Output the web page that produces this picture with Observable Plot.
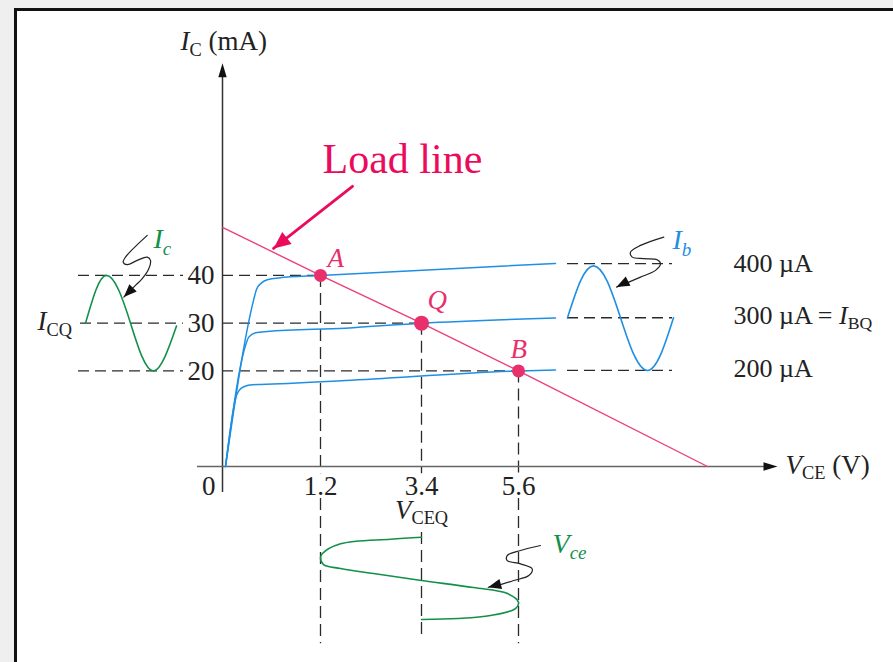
<!DOCTYPE html>
<html><head><meta charset="utf-8">
<script src="https://cdn.jsdelivr.net/npm/d3@7"></script>
<script src="https://cdn.jsdelivr.net/npm/@observablehq/plot@0.6"></script>
<style>
html,body{margin:0;padding:0;}
body{width:893px;height:662px;background:#efefef;position:relative;overflow:hidden;}
#panel{position:absolute;left:14px;top:8px;right:-10px;bottom:-10px;background:#fff;border-left:3px solid #111;border-top:3px solid #111;}
#chart{position:absolute;left:0;top:0;}
</style></head><body><div id="panel"></div><div id="chart"></div>
<script>
// ---- data (V in volts on x, I in mA on y) ----
const vceTicks = [0, 1.2, 3.4, 5.6];
const icTicks = [40, 30, 20];
const ibText = ["400 µA", "300 µA = <i>I</i><sub>BQ</sub>", "200 µA"];
const ibLevel = [42.45, 31.14, 20.1];
const ibLabelI = [40.69, 29.88, 18.7];
const loadV = [0, 1.2, 3.4, 5.6, 10];
const loadI = [50.05, 40, 30, 20, 0];
const opName = ["A", "Q", "B"];
const opV = [1.2, 3.4, 5.6];
const opI = [40, 30, 20];
const curve400 = [[0.037,0],[0.380,34.76],[0.416,37.07],[0.478,38.43],[0.563,39.16],[0.686,39.48],[1.2,40],[6.461,42.51]];
const curve300 = [[0.037,0],[0.282,25.34],[0.322,27.08],[0.404,28.0],[0.547,28.27],[1.745,28.96],[3.4,30],[6.461,31.1]];
const curve200 = [[0.037,0],[0.171,14.87],[0.208,16.02],[0.269,16.75],[0.367,17.11],[0.465,17.17],[1.745,18.01],[5.6,20],[6.461,20.2]];
const icWave = [[-1.680,30],[-1.551,37],[-1.423,40],[-1.275,37],[-1.128,30],[-0.987,23],[-0.846,20],[-0.705,23],[-0.564,29.4]];
const ibWave = [[6.741,31.14],[7.044,38.85],[7.346,42.0],[7.661,38.85],[7.975,31.14],[8.289,23.35],[8.603,20.1],[8.906,23.35],[9.209,31.14]];
const vceWave = [[3.4,-14.8],[2.725,-15.22],[1.636,-16.19],[1.237,-18.28],[1.2,-19.12],[1.265,-20.52],[1.636,-21.36],[2.355,-22.41],[3.4,-23.87],[4.579,-25.34],[5.351,-26.6],[5.6,-28.42],[5.532,-29.74],[4.965,-31.2],[4.217,-31.83],[3.4,-32.04]];
const icSquiggle = [[-0.923,48.38],[-1.190,43.83],[-1.218,42.79],[-1.169,42.24],[-1.046,43.14],[-0.923,43.83],[-0.883,43.14],[-0.904,41.4],[-0.985,39.31],[-1.067,37.91],[-1.210,35.46]];
const ibSquiggle = [[8.983,48.02],[8.440,46.28],[8.208,44.88],[8.247,43.83],[8.517,43.5],[8.829,43.29],[8.906,42.45],[8.790,41.05],[8.440,39.64],[8.168,38.6],[7.882,37.55]];
const vceSquiggle = [[6.112,-16.54],[5.647,-17.59],[5.344,-18.64],[5.344,-19.69],[5.647,-20.38],[5.919,-21.42],[5.840,-22.83],[5.493,-23.87],[5.192,-24.71],[4.913,-25.28]];
const loadArrow = [[1.897,58.64],[0.625,45.65]];
const hGuides = [
  {i:40,v1:-1.766,v2:-0.478},{i:40,v1:0,v2:1.2},
  {i:30,v1:-1.741,v2:-0.478},{i:30,v1:0,v2:3.4},
  {i:20,v1:-1.766,v2:-0.478},{i:20,v1:0,v2:5.6},
  {i:42.45,v1:6.741,v2:9.186},{i:31.14,v1:6.741,v2:9.186},{i:20.1,v1:6.741,v2:9.186}
];
const vGuides = [
  {v:1.2,i1:40,i2:-1.5},{v:1.2,i1:-6.7,i2:-37.1},
  {v:3.4,i1:30,i2:-1.5},{v:3.4,i1:-13.8,i2:-36.4},
  {v:5.6,i1:20,i2:-1.5},{v:5.6,i1:-6.7,i2:-37.1}
];
const axisTextStart = [
  {v:-0.515,i:87.12,t:"<i>I</i><sub>C</sub> (mA)"},
  {v:11.814,i:-1.47,t:"<i>V</i><sub>CE</sub> (V)"},
  {v:-2.269,i:28.48,t:"<i>I</i><sub>CQ</sub>"}
];
const axisTextMiddle = [{v:3.4,i:-10.89,t:"<i>V</i><sub>CEQ</sub>"}];
const waveLabels = [
  {v:-0.846,i:45.65,t:"<i>I</i><si>c</si>",c:"green"},
  {v:9.186,i:45.45,t:"<i>I</i><si>b</si>",c:"blue"},
  {v:6.392,i:-18.01,t:"<i>V</i><si>ce</si>",c:"green"}
];
const arrowTipsBlack = [{v:-1.210,i:35.46,rot:225},{v:7.882,i:37.55,rot:243},{v:4.913,i:-25.28,rot:255}];

// ---- styles ----
const BLUE = "#1f8fe3", GREEN = "#12904a", PINK = "#ec3f78", PINKDOT = "#e8306d", PINKTXT = "#ea0b5d";
const SERIF = "'Liberation Serif', 'Times New Roman', serif";
function arrowSymbol(wf) {
  return {draw(ctx, size) { const r = Math.sqrt(size / Math.PI); ctx.moveTo(0, 0); ctx.lineTo(wf * r, r); ctx.lineTo(-wf * r, r); ctx.closePath(); }};
}

const chart = Plot.plot({
  width: 893, height: 662, margin: 0,
  x: {type: "linear", domain: [-2.6, 0, 1.2, 3.4, 5.6, 10, 12], range: [10, 222, 320, 421, 518, 707, 793], axis: null},
  y: {type: "linear", domain: [0, 40], range: [466, 274.9], axis: null},
  style: {background: "transparent", fontFamily: SERIF, overflow: "visible"},
  marks: [
    Plot.ruleY(hGuides, {y: "i", x1: "v1", x2: "v2", stroke: "#2a2a2a", strokeWidth: 1.3, strokeDasharray: "11,6"}),
    Plot.ruleX(vGuides, {x: "v", y1: "i1", y2: "i2", stroke: "#2a2a2a", strokeWidth: 1.3, strokeDasharray: "12,6"}),
    Plot.ruleX([0], {y1: -5.45, y2: 81.5, stroke: "#333", strokeWidth: 1.5}),
    Plot.ruleY([0], {x1: -0.307, x2: 11.33, stroke: "#666", strokeWidth: 1.6}),
    Plot.dot([{v:0,i:84.4,rot:0},{v:11.628,i:0,rot:90}], {x: "v", y: "i", rotate: "rot", symbol: arrowSymbol(0.3), r: 14, fill: "#111", stroke: "none"}),
    Plot.line(loadV.map((v, k) => [v, loadI[k]]), {stroke: PINK, strokeWidth: 1.4}),
    Plot.line(curve400, {stroke: BLUE, strokeWidth: 1.5, curve: "monotone-x"}),
    Plot.line(curve300, {stroke: BLUE, strokeWidth: 1.5, curve: "monotone-x"}),
    Plot.line(curve200, {stroke: BLUE, strokeWidth: 1.5, curve: "monotone-x"}),
    Plot.line(icWave, {stroke: GREEN, strokeWidth: 1.6, curve: "natural"}),
    Plot.line(ibWave, {stroke: BLUE, strokeWidth: 1.6, curve: "natural"}),
    Plot.line(vceWave, {stroke: GREEN, strokeWidth: 1.6, curve: "catmull-rom"}),
    Plot.line(icSquiggle, {stroke: "#222", strokeWidth: 1.2, curve: "catmull-rom"}),
    Plot.line(ibSquiggle, {stroke: "#222", strokeWidth: 1.2, curve: "catmull-rom"}),
    Plot.line(vceSquiggle, {stroke: "#222", strokeWidth: 1.2, curve: "catmull-rom"}),
    Plot.dot(arrowTipsBlack, {x: "v", y: "i", rotate: "rot", symbol: arrowSymbol(0.4), r: 13, fill: "#111", stroke: "none"}),
    Plot.line(loadArrow, {stroke: PINKTXT, strokeWidth: 2.8}),
    Plot.dot([loadArrow[1]], {x: d => d[0], y: d => d[1], rotate: 232, symbol: arrowSymbol(0.45), r: 17, fill: PINKTXT, stroke: "none"}),
    Plot.dot(opV.map((v, k) => ({v, i: opI[k]})).filter((d, k) => k !== 1), {x: "v", y: "i", r: 6.5, fill: PINKDOT, stroke: "none"}),
    Plot.dot(opV.map((v, k) => ({v, i: opI[k]})).filter((d, k) => k === 1), {x: "v", y: "i", r: 7.5, fill: PINKDOT, stroke: "none"}),
    ...opName.map((n, k) => Plot.text([k], {x: k => opV[k], y: k => opI[k], text: k => opName[k], dx: [7, 6, -8][k], dy: [-8, -14, -13][k], lineAnchor: "bottom", textAnchor: "start", fontSize: 27, fontStyle: "italic", fill: PINKDOT})),
    Plot.text(["Load line"], {x: 1.244, y: 61.36, text: d => d, lineAnchor: "bottom", textAnchor: "start", fontSize: 42, fill: PINKTXT}),
    Plot.text(icTicks, {x: -0.098, y: d => d, text: d => String(d), lineAnchor: "bottom", textAnchor: "end", dy: 9, fontSize: 27, fill: "#222"}),
    Plot.text(vceTicks.slice(0, 1), {x: d => d, y: 0, text: d => String(d), lineAnchor: "bottom", textAnchor: "end", dx: -7, dy: 28, fontSize: 27, fill: "#222"}),
    Plot.text(vceTicks.slice(1), {x: d => d, y: 0, text: d => String(d), lineAnchor: "bottom", textAnchor: "middle", dy: 28, fontSize: 27, fill: "#222"}),
    Plot.text(ibText, {x: 10.605, y: (d, k) => ibLabelI[k], text: d => d, lineAnchor: "bottom", textAnchor: "start", fontSize: 26, fill: "#222"}),
    Plot.text(axisTextStart, {x: "v", y: "i", text: "t", lineAnchor: "bottom", textAnchor: "start", fontSize: 27, fill: "#222"}),
    Plot.text(axisTextMiddle, {x: "v", y: "i", text: "t", lineAnchor: "bottom", textAnchor: "middle", fontSize: 27, fill: "#222"}),
    Plot.text(waveLabels, {x: "v", y: "i", text: "t", lineAnchor: "bottom", textAnchor: "start", fontSize: 28, fill: d => d.c === "blue" ? BLUE : GREEN})
  ]
});
document.getElementById("chart").appendChild(chart);

// turn the small markup (<i>, <sub>, <si>) into real SVG tspans
function richify(svg) {
  const NS = "http://www.w3.org/2000/svg";
  svg.querySelectorAll("text").forEach(t => {
    const s = t.textContent;
    if (!s.includes("<")) return;
    const fs = parseFloat(getComputedStyle(t).fontSize) || 16;
    const shift = fs * 0.22;
    const parts = s.split(/(<i>.*?<\/i>|<sub>.*?<\/sub>|<si>.*?<\/si>)/).filter(p => p !== "");
    while (t.firstChild) t.removeChild(t.firstChild);
    let lowered = false;
    for (const p of parts) {
      const ts = document.createElementNS(NS, "tspan");
      const m = p.match(/^<(i|sub|si)>(.*)<\/\1>$/);
      if (m && (m[1] === "sub" || m[1] === "si")) {
        ts.textContent = m[2];
        ts.setAttribute("font-size", (fs * 0.68) + "px");
        ts.setAttribute("font-style", m[1] === "si" ? "italic" : "normal");
        if (!lowered) { ts.setAttribute("dy", shift); lowered = true; }
      } else {
        if (m) { ts.textContent = m[2]; ts.setAttribute("font-style", "italic"); }
        else ts.textContent = p;
        if (lowered) { ts.setAttribute("dy", -shift); lowered = false; }
      }
      t.appendChild(ts);
    }
  });
}
richify(chart);
</script></body></html>
